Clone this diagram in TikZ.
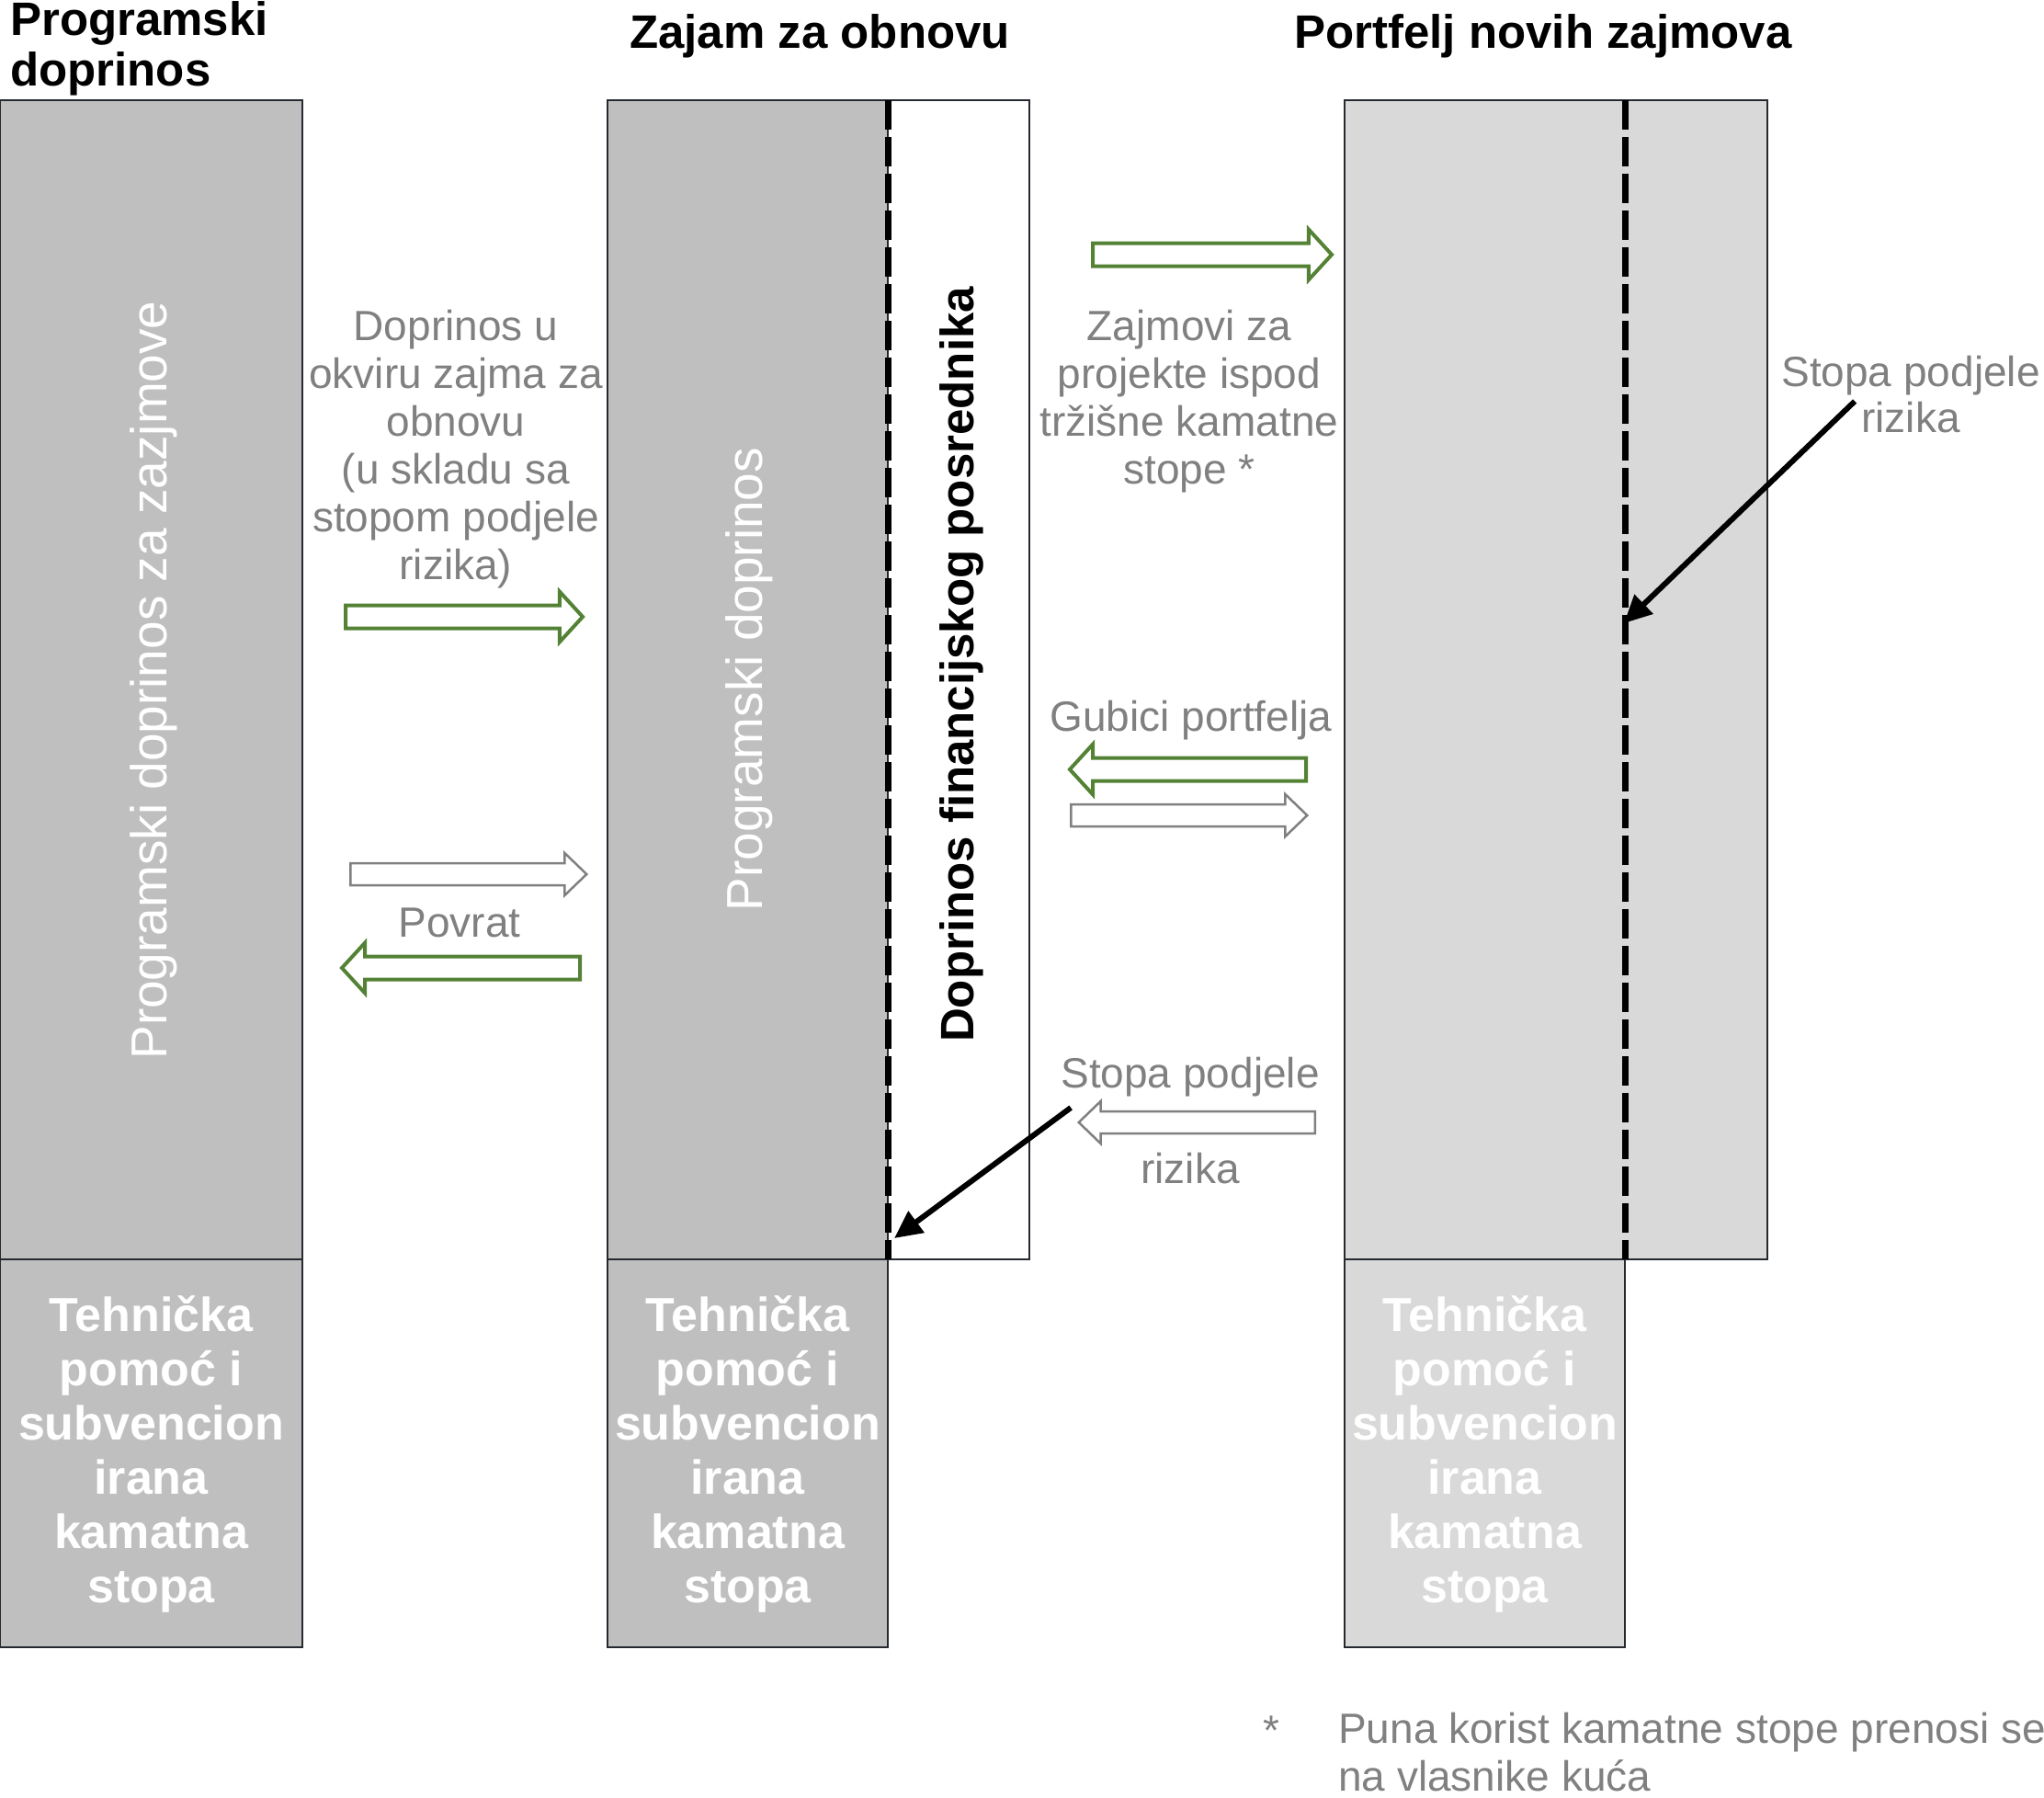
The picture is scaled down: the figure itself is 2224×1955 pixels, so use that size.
\documentclass[tikz,border=0pt]{standalone}
\usepackage{fontspec}
\setmainfont{Liberation Sans}
\usepackage{xcolor}
\usepackage{tikz}
\usetikzlibrary{positioning, arrows.meta, shapes.arrows}
\definecolor{fillDark}{RGB}{191, 191, 191}
\definecolor{fillLight}{RGB}{217, 217, 217}
\definecolor{accGreen}{RGB}{84, 130, 53}
\definecolor{txtGrey}{RGB}{128, 128, 128}
\definecolor{edgeDark}{RGB}{38, 42, 48}

\begin{document}
\begin{tikzpicture}[
    x=1pt, y=-1pt,
    col/.style={draw=edgeDark, line width=2pt},
    split/.style={line width=7pt, dash pattern=on 32pt off 8pt},
    head/.style={font=\fontsize{51}{55}\selectfont\bfseries, align=left, inner sep=0pt},
    lbl/.style={font=\fontsize{46}{52}\selectfont, text=txtGrey, align=center, inner sep=0pt},
    vlbl/.style={font=\fontsize{55}{60}\selectfont, text=white, rotate=90, inner sep=0pt},
    tlbl/.style={font=\fontsize{52}{59}\selectfont\bfseries, text=white, align=center, inner sep=0pt},
    garr/.style={single arrow, draw=accGreen, line width=4pt, inner xsep=0pt, inner ysep=10.5pt,
        single arrow head extend=15pt, single arrow tip angle=95, anchor=tail},
    warr/.style={single arrow, draw=txtGrey, line width=2.5pt, inner xsep=0pt, inner ysep=10.75pt,
        single arrow head extend=11pt, single arrow tip angle=88, anchor=tail},
    ptr/.style={-{Triangle[length=30pt, width=28pt]}, line width=6pt}
]
\useasboundingbox (0,0) rectangle (2224,1955);

\filldraw[col, fill=fillDark] (0,109) rectangle (329,1370);
\filldraw[col, fill=fillDark] (0,1370) rectangle (329,1792);
\filldraw[col, fill=fillDark] (661,109) rectangle (966,1370);
\draw[col] (966,109) rectangle (1120,1370);
\filldraw[col, fill=fillDark] (661,1370) rectangle (966,1792);
\filldraw[col, fill=fillLight] (1463,109) rectangle (1923,1370);
\filldraw[col, fill=fillLight] (1463,1370) rectangle (1768,1792);
\draw[split] (966,109) -- (966,1370);
\draw[split] (1768,109) -- (1768,1370);

\node[head, anchor=north west] (hProg) at (11,1) {Programski\\doprinos};
\node[head, anchor=base] (hZajam) at (892,52) {Zajam za obnovu};
\node[head, anchor=base] (hPort) at (1679,52) {Portfelj novih zajmova};

\node[vlbl] (vProg) at (167,740) {Programski doprinos za zazjmove};
\node[vlbl] (vZajam) at (815,739) {Programski doprinos};
\node[vlbl, text=black, font=\fontsize{51}{56}\selectfont\bfseries] (vPosr) at (1046,723) {Doprinos financijskog posrednika};

\foreach \n/\x in {tLeft/164.5, tMid/813.5, tRight/1615.5}
  \node[tlbl] (\n) at (\x,1582) {Tehnička\\pomoć i\\subvencion\\irana\\kamatna\\stopa};

\node[lbl, anchor=north] (lDopr) at (496,337) {Doprinos u\\okviru zajma za\\obnovu\\(u skladu sa\\stopom podjele\\rizika)};
\node[lbl, anchor=base] (lPovrat) at (500,1019) {Povrat};
\node[lbl, anchor=north] (lZajm) at (1294,337) {Zajmovi za\\projekte ispod\\tržišne kamatne\\stope *};
\node[lbl, anchor=base] (lGub) at (1296,795) {Gubici portfelja};
\node[lbl, anchor=base] (lStopaA) at (1295,1183) {Stopa podjele};
\node[lbl, anchor=base] (lRizA) at (1295,1287) {rizika};
\node[lbl, anchor=base] (lStopaB) at (2079,420) {Stopa podjele};
\node[lbl, anchor=base] (lRizB) at (2079,470) {rizika};

\node[lbl, anchor=base west] (fStar) at (1374,1898) {*};
\node[lbl, anchor=base west, align=left] (fNote) at (1456,1948) {Puna korist kamatne stope prenosi se\\na vlasnike kuća};

\foreach \n/\s/\t/\l/\y/\r in {aDopr/garr/374/258/671/0, aPovrat/garr/633/259/1053/180,
    aZajm/garr/1187/260/277/0, aGub/garr/1423/257/837/180, aVrati/warr/380/257/951/0,
    aPort/warr/1164/257/887/0, aStopa/warr/1432/257/1221/180}
  \node[\s, minimum height={\l*1pt}, shape border rotate=\r] (\n) at (\t,\y) {};

\coordinate (dA) at (973,1347);
\coordinate (dB) at (1767,678);
\draw[ptr] ([xshift=11pt, yshift=-22pt]lStopaA.base west) -- (dA);
\draw[ptr] ([xshift=-7pt]lRizB.north west) -- (dB);
\end{tikzpicture}
\end{document}
